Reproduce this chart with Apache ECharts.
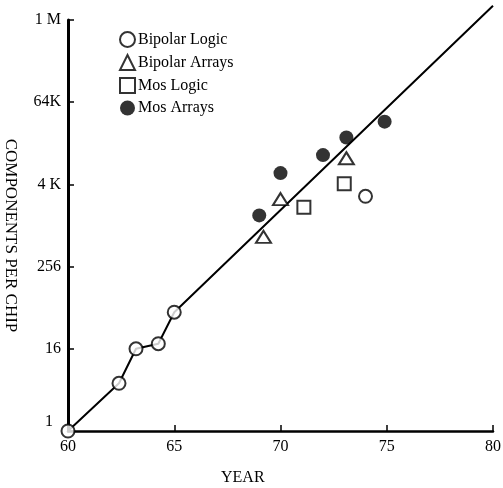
<!DOCTYPE html>
<html>
<head>
<meta charset="utf-8">
<script src="https://cdn.jsdelivr.net/npm/echarts@6/dist/echarts.min.js"></script>
<style>
  html, body { margin: 0; padding: 0; background: #fff; }
  #chart { width: 503px; height: 488px; }
</style>
</head>
<body>
<div id="chart"></div>
<script>
  // values (x = year, y = components per chip)
  const bipolarLogic = [[60, 1], [62.4, 5], [63.2, 16], [64.25, 19], [65, 55], [74, 2740]]
  const bipolarArrays = [[69.2, 700], [70, 2500], [73.1, 9900]]
  const mosLogic = [[71.1, 1900], [73, 4200]]
  const mosArrays = [[69, 1440], [70, 6000], [72, 11000], [73.1, 19900], [74.9, 34000]]
  // hand-drawn curve through the early bipolar points, then the trend line
  const trendLine = [[60, 1], [62.4, 5], [63.2, 16], [64.25, 19], [65, 55], [80, 1700000]]
  const yTickLabels = ['1', '16', '256', '4 K', '64K', '1 M']
  const xTicks = [60, 65, 70, 75, 80]

  const serif = '"Liberation Serif", "DejaVu Serif", serif'
  const chart = echarts.init(document.getElementById('chart'))

  const markerStyle = { color: '#fff', borderColor: '#000', borderWidth: 2 }

  chart.setOption({
    animation: false,
    title: {
      text: 'YEAR',
      left: 216,
      top: 465,
      textStyle: { fontFamily: serif, fontSize: 16, fontWeight: 'normal', color: '#000' }
    },
    legend: {
      orient: 'vertical',
      left: 114,
      top: 26,
      itemGap: 6,
      itemWidth: 15,
      itemHeight: 15,
      data: ['Bipolar Logic', 'Bipolar Arrays', 'Mos Logic', 'Mos Arrays'],
      textStyle: { fontFamily: serif, fontSize: 16, color: '#000', padding: [0, 0, 0, -2] }
    },
    grid: { left: 68, right: 10, top: 20, bottom: 57, outerBoundsMode: 'none' },
    xAxis: {
      type: 'value',
      min: xTicks[0],
      max: xTicks[xTicks.length - 1],
      interval: 5,
      axisLine: { lineStyle: { color: '#000', width: 2.5 } },
      axisTick: { inside: true, length: 6, lineStyle: { color: '#000', width: 1.5 } },
      splitLine: { show: false },
      axisLabel: { fontFamily: serif, fontSize: 16, color: '#000', margin: 8 }
    },
    yAxis: {
      type: 'log',
      logBase: 2,
      min: 1,
      max: 1048576,
      interval: 4,
      name: 'COMPONENTS PER CHIP',
      nameLocation: 'middle',
      nameRotate: -90,
      nameGap: 49,
      nameTextStyle: { fontFamily: serif, fontSize: 17, color: '#000', padding: [0, 0, 0, 20] },
      axisLine: { show: true, lineStyle: { color: '#000', width: 3 } },
      axisTick: { show: true, inside: true, length: 6, lineStyle: { color: '#000', width: 1.5 } },
      splitLine: { show: false },
      minorTick: { show: false },
      axisLabel: {
        fontFamily: serif,
        fontSize: 16,
        color: '#000',
        margin: 7,
        formatter: function (v) {
          const i = Math.round(Math.log2(v) / 4)
          return i === 0 ? '{low|' + yTickLabels[i] + '}' : yTickLabels[i]
        },
        rich: {
          low: { fontFamily: serif, fontSize: 16, color: '#000', padding: [0, 8, 18, 0] }
        }
      }
    },
    series: [
      {
        name: 'trend',
        type: 'line',
        data: trendLine,
        symbol: 'none',
        clip: false,
        z: 1,
        lineStyle: { color: '#000', width: 2 }
      },
      {
        name: 'Bipolar Logic',
        type: 'scatter',
        data: bipolarLogic,
        symbol: 'circle',
        symbolSize: 13,
        clip: false,
        z: 3,
        itemStyle: markerStyle
      },
      {
        name: 'Bipolar Arrays',
        type: 'scatter',
        data: bipolarArrays,
        symbol: 'triangle',
        symbolSize: [15, 12],
        z: 3,
        itemStyle: markerStyle
      },
      {
        name: 'Mos Logic',
        type: 'scatter',
        data: mosLogic,
        symbol: 'rect',
        symbolSize: 13,
        z: 3,
        itemStyle: markerStyle
      },
      {
        name: 'Mos Arrays',
        type: 'scatter',
        data: mosArrays,
        symbol: 'circle',
        symbolSize: 14,
        z: 3,
        itemStyle: { color: '#000' }
      }
    ]
  })
</script>
</body>
</html>
